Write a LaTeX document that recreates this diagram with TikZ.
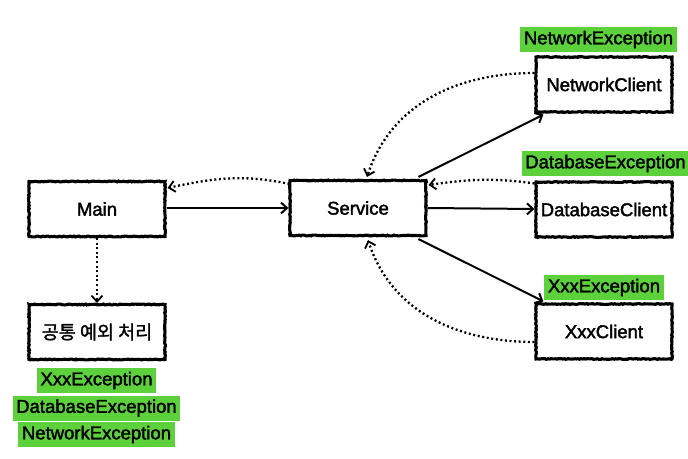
\documentclass[tikz,border=0pt]{standalone}
\usepackage{fontspec}
\setmainfont{Liberation Sans}[FakeBold=2]
\newfontfamily\krfont{Noto Sans CJK KR}[FakeBold=1.5]
\usetikzlibrary{arrows.meta,calc,decorations.pathmorphing}
\definecolor{exgreen}{RGB}{92,209,60}
\begin{document}
\begin{tikzpicture}[x=1pt,y=1pt,
  box/.style={draw=black, line width=3.1pt, minimum width=136pt, minimum height=55pt,
    inner sep=0pt, font=\fontsize{18.5}{21}\selectfont, fill=white,
    decorate, decoration={random steps, segment length=1.5pt, amplitude=0.45pt}},
  exlabel/.style={fill=exgreen, inner xsep=3.5pt, inner ysep=0pt, minimum height=25pt,
    font=\fontsize{18.5}{21}\selectfont},
  solidarrow/.style={line width=2pt, -{Straight Barb[length=6pt,width=11pt,line width=2pt]}},
  dotarrow/.style={line width=2.3pt, dash pattern=on 2pt off 2.6pt,
    -{Straight Barb[length=6pt,width=11pt,line width=1.8pt]}}
]
\useasboundingbox (0,-458) rectangle (688,0);
\fill[white] (0,-458) rectangle (688,0);

\node[box] (main) at (97,-209) {Main};
\node[box] (svc) at (358,-208) {Service};
\node[box] (nc) at (604,-84.5) {NetworkClient};
\node[box] (dc) at (604,-209.5) {DatabaseClient};
\node[box] (xc) at (604,-331.5) {XxxClient};
\node[box] (common) at (97,-332) {\krfont 공통 예외 처리};

\node[exlabel] (ne) at (598.5,-39.5) {NetworkException};
\node[exlabel] (de) at (605.5,-163.5) {DatabaseException};
\node[exlabel] (xe) at (604,-287.5) {XxxException};

\node[exlabel] (lx) at (96.5,-380.5) {XxxException};
\node[exlabel] (ld) at (96.5,-408) {DatabaseException};
\node[exlabel] (ln) at (96.5,-434.5) {NetworkException};

% solid arrows
\draw[solidarrow] ($(main.east)+(0,1)$) -- ($(svc.west)+(0,0)$);
\draw[solidarrow] (svc.east) -- ($(dc.west)+(0,0.5)$);
\draw[solidarrow] ($(svc.north east)+(-9,2)$) -- ($(nc.south west)+(9,-1)$);
\draw[solidarrow] ($(svc.south east)+(-9,-2)$) -- ($(xc.north west)+(9,1)$);

% dotted arrows
\coordinate (ncs) at ($(nc.west)+(0,11.5)$);
\coordinate (svtop) at ($(svc.north)+(9,2)$);
\draw[dotarrow] (ncs) to[out=180,in=72] (svtop);
\coordinate (dcs) at ($(dc.north west)+(0,-3)$);
\coordinate (svr) at ($(svc.north east)+(1,-6)$);
\draw[dotarrow] (dcs) to[out=172,in=8] (svr);
\coordinate (xcs) at ($(xc.west)+(0,-10.5)$);
\coordinate (svbot) at ($(svc.south)+(10,-3)$);
\draw[dotarrow] (xcs) to[out=180,in=-72] (svbot);
\coordinate (svl) at ($(svc.north west)+(1,-5)$);
\coordinate (mnr) at ($(main.north east)+(1,-8)$);
\draw[dotarrow] (svl) to[out=168,in=12] (mnr);
\draw[dotarrow] (main.south) -- (common.north);
\end{tikzpicture}
\end{document}
